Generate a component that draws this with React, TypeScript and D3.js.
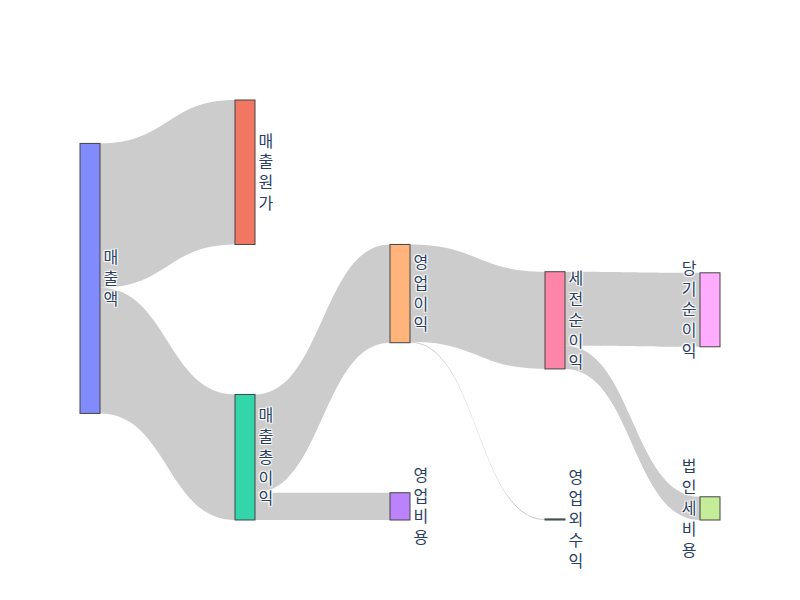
import React from "react";
import * as d3 from "d3";

const nodeLabels = ["매출액", "매출원가", "매출총이익", "영업비용", "영업이익", "영업외수익", "세전순이익", "법인세비용", "당기순이익"];
const nodeColors = ["#636efa", "#EF553B", "#00cc96", "#ab63fa", "#FFA15A", "#19d3f3", "#FF6692", "#B6E880", "#FF97FF"];
const linkSource = [0, 0, 2, 2, 4, 4, 6, 6];
const linkTarget = [1, 2, 3, 4, 5, 6, 7, 8];
const linkValue = [535, 465, 101, 364, 4, 360, 86, 274];

const W = 800;
const H = 600;
const margin = { l: 80, r: 80, t: 100, b: 80 };
const nodeWidth = 20;
const nodePad = 150;
const iterations = 50;
const fontSize = 16;
const lineSpacing = 1.3;

type N = {
  index: number; label: string; color: string; sourceLinks: L[]; targetLinks: L[];
  value: number; depth: number; x0: number; x1: number; y0: number; y1: number;
};
type L = { source: N; target: N; value: number; width: number; y0: number; y1: number };

function computeLayout() {
  const X0 = margin.l, X1 = W - margin.r, Y0 = margin.t, Y1 = H - margin.b;
  const nodes: N[] = nodeLabels.map((label, i) => ({
    index: i, label, color: nodeColors[i], sourceLinks: [], targetLinks: [],
    value: 0, depth: 0, x0: 0, x1: 0, y0: 0, y1: 0,
  }));
  const links: L[] = linkValue.map((v, i) => ({
    source: nodes[linkSource[i]], target: nodes[linkTarget[i]], value: v, width: 0, y0: 0, y1: 0,
  }));
  links.forEach((l) => { l.source.sourceLinks.push(l); l.target.targetLinks.push(l); });
  nodes.forEach((n) => {
    n.value = Math.max(d3.sum(n.sourceLinks, (l) => l.value), d3.sum(n.targetLinks, (l) => l.value));
  });
  let cur: N[] = nodes.slice();
  let x = 0;
  while (cur.length) {
    const next: N[] = [];
    cur.forEach((n) => {
      n.depth = x;
      n.sourceLinks.forEach((l) => { if (next.indexOf(l.target) < 0) next.push(l.target); });
    });
    cur = next;
    x++;
  }
  const maxDepth = d3.max(nodes, (n) => n.depth) as number;
  const xScale = d3.scaleLinear().domain([0, maxDepth]).range([X0, X1 - nodeWidth]);
  nodes.forEach((n) => { n.x0 = xScale(n.depth); n.x1 = n.x0 + nodeWidth; });

  const columns: N[][] = d3.groups(nodes, (n) => n.depth).sort((a, b) => a[0] - b[0]).map((g) => g[1]);
  const ky = d3.min(columns, (c) => (Y1 - Y0 - (c.length - 1) * nodePad) / d3.sum(c, (n) => n.value)) as number;
  columns.forEach((c) => c.forEach((n, i) => { n.y0 = i; n.y1 = i + n.value * ky; }));
  links.forEach((l) => { l.width = l.value * ky; });
  const center = (n: N) => (n.y0 + n.y1) / 2;

  function resolveCollisions() {
    columns.forEach((c) => {
      let y = Y0;
      c.sort((a, b) => a.y0 - b.y0);
      let node: N = c[0];
      for (let i = 0; i < c.length; i++) {
        node = c[i];
        const dy = y - node.y0;
        if (dy > 0) { node.y0 += dy; node.y1 += dy; }
        y = node.y1 + nodePad;
      }
      let dy = y - nodePad - Y1;
      if (dy > 0) {
        node.y0 -= dy; node.y1 -= dy;
        y = node.y0;
        for (let i = c.length - 2; i >= 0; i--) {
          node = c[i];
          dy = node.y1 + nodePad - y;
          if (dy > 0) { node.y0 -= dy; node.y1 -= dy; }
          y = node.y0;
        }
      }
    });
  }
  function relaxLeftToRight(alpha: number) {
    columns.forEach((c) => c.forEach((n) => {
      if (n.targetLinks.length) {
        const dy = (d3.sum(n.targetLinks, (l) => center(l.source) * l.value) / d3.sum(n.targetLinks, (l) => l.value) - center(n)) * alpha;
        n.y0 += dy; n.y1 += dy;
      }
    }));
  }
  function relaxRightToLeft(alpha: number) {
    columns.slice().reverse().forEach((c) => c.forEach((n) => {
      if (n.sourceLinks.length) {
        const dy = (d3.sum(n.sourceLinks, (l) => center(l.target) * l.value) / d3.sum(n.sourceLinks, (l) => l.value) - center(n)) * alpha;
        n.y0 += dy; n.y1 += dy;
      }
    }));
  }
  resolveCollisions();
  let alpha = 1;
  for (let k = iterations; k > 0; k--) {
    alpha *= 0.99;
    relaxRightToLeft(alpha);
    resolveCollisions();
    relaxLeftToRight(alpha);
    resolveCollisions();
  }
  nodes.forEach((n) => {
    n.sourceLinks.sort((a, b) => a.target.y0 - b.target.y0);
    n.targetLinks.sort((a, b) => a.source.y0 - b.source.y0);
  });
  nodes.forEach((n) => {
    let a = n.y0, b = n.y0;
    n.sourceLinks.forEach((l) => { l.y0 = a + l.width / 2; a += l.width; });
    n.targetLinks.forEach((l) => { l.y1 = b + l.width / 2; b += l.width; });
  });
  return { nodes, links, X1 };
}

function linkPath(l: L) {
  const x0 = l.source.x1, x1 = l.target.x0;
  const xi = d3.interpolateNumber(x0, x1);
  const x2 = xi(0.5), x3 = xi(0.5);
  const y0a = l.y0 - l.width / 2, y0b = l.y0 + l.width / 2;
  const y1a = l.y1 - l.width / 2, y1b = l.y1 + l.width / 2;
  const p = d3.path();
  p.moveTo(x0, y0a);
  p.bezierCurveTo(x2, y0a, x3, y1a, x1, y1a);
  p.lineTo(x1, y1b);
  p.bezierCurveTo(x3, y1b, x2, y0b, x0, y0b);
  p.closePath();
  return p.toString();
}

export default function App() {
  const { nodes, links, X1 } = computeLayout();
  const shadow = "1px 1px 1px #fff, -1px -1px 1px #fff, 1px -1px 1px #fff, -1px 1px 1px #fff";
  return (
    <svg width={W} height={H} style={{ position: "absolute", left: 0, top: 0, background: "#fff" }}>
      <rect x={0} y={0} width={W} height={H} fill="#fff" />
      <g>
        {links.map((l, i) => (
          <path key={i} d={linkPath(l)} fill="rgba(0,0,0,0.2)" stroke="none" />
        ))}
      </g>
      <g>
        {nodes.map((n) => (
          <rect key={n.index} x={n.x0} y={n.y0} width={n.x1 - n.x0} height={Math.max(n.y1 - n.y0, 0.5)}
            fill={n.color} fillOpacity={0.8} stroke="#444" strokeWidth={1} />
        ))}
      </g>
      <g>
        {nodes.map((n) => {
          const chars = Array.from(n.label);
          const onLeft = n.x1 >= X1 - 0.5;
          const tx = onLeft ? n.x0 - 3.5 : n.x1 + 3.5;
          const cy = (n.y0 + n.y1) / 2;
          const firstDy = -((chars.length - 1) * lineSpacing * fontSize) / 2 + 0.35 * fontSize;
          return (
            <text key={n.index} x={tx} y={cy} textAnchor={onLeft ? "end" : "start"}
              fontFamily="'Noto Sans CJK KR', 'Open Sans', sans-serif" fontSize={fontSize} fill="#2a3f5f"
              style={{ textShadow: shadow }}>
              {chars.map((ch, j) => (
                <tspan key={j} x={tx} y={cy + firstDy + j * lineSpacing * fontSize}>{ch}</tspan>
              ))}
            </text>
          );
        })}
      </g>
    </svg>
  );
}
